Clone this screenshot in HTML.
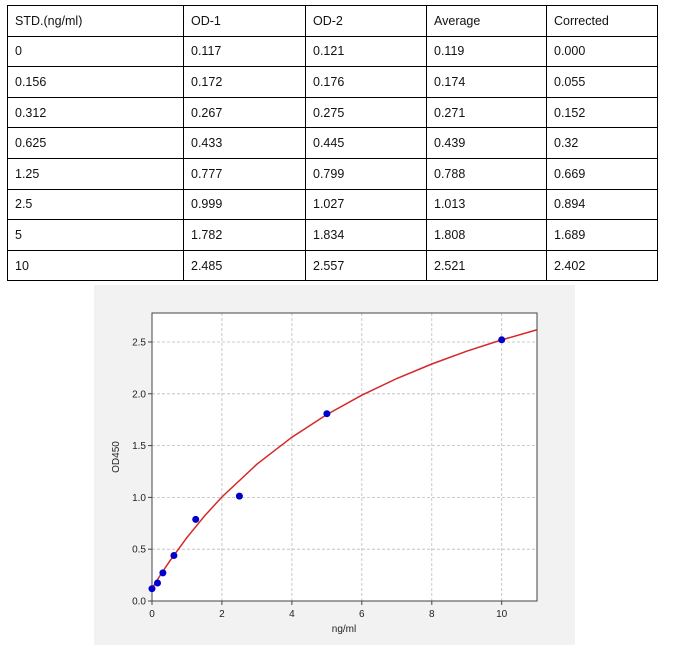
<!DOCTYPE html>
<html><head><style>
body{margin:0;background:#fff;width:686px;height:648px;position:relative;font-family:"Liberation Sans",sans-serif;overflow:hidden}
table{position:absolute;left:7px;top:5px;border-collapse:collapse;font-size:12.5px;color:#111}
td{border:1px solid #000;height:30.6px;padding:0 0 0 7px;box-sizing:border-box;vertical-align:middle}
</style></head><body>
<table>
<tr><td style="width:176px">STD.(ng/ml)</td><td style="width:122px">OD-1</td><td style="width:121px">OD-2</td><td style="width:120px">Average</td><td style="width:111px">Corrected</td></tr>
<tr><td>0</td><td>0.117</td><td>0.121</td><td>0.119</td><td>0.000</td></tr>
<tr><td>0.156</td><td>0.172</td><td>0.176</td><td>0.174</td><td>0.055</td></tr>
<tr><td>0.312</td><td>0.267</td><td>0.275</td><td>0.271</td><td>0.152</td></tr>
<tr><td>0.625</td><td>0.433</td><td>0.445</td><td>0.439</td><td>0.32</td></tr>
<tr><td>1.25</td><td>0.777</td><td>0.799</td><td>0.788</td><td>0.669</td></tr>
<tr><td>2.5</td><td>0.999</td><td>1.027</td><td>1.013</td><td>0.894</td></tr>
<tr><td>5</td><td>1.782</td><td>1.834</td><td>1.808</td><td>1.689</td></tr>
<tr><td>10</td><td>2.485</td><td>2.557</td><td>2.521</td><td>2.402</td></tr>
</table>
<svg width="686" height="648" style="position:absolute;left:0;top:0" font-family="Liberation Sans, sans-serif" font-size="10" fill="#222">
<rect x="94" y="285" width="481" height="360" fill="#f2f2f2"/>
<rect x="152" y="313" width="385" height="288" fill="#fff"/>
<g stroke="#bbb" stroke-dasharray="3,2" stroke-width="0.8">
<line x1="221.9" y1="313" x2="221.9" y2="601"/><line x1="291.9" y1="313" x2="291.9" y2="601"/><line x1="361.8" y1="313" x2="361.8" y2="601"/><line x1="431.8" y1="313" x2="431.8" y2="601"/><line x1="501.7" y1="313" x2="501.7" y2="601"/>
<line x1="152" y1="549.2" x2="537" y2="549.2"/><line x1="152" y1="497.4" x2="537" y2="497.4"/><line x1="152" y1="445.6" x2="537" y2="445.6"/><line x1="152" y1="393.8" x2="537" y2="393.8"/><line x1="152" y1="342" x2="537" y2="342"/><line x1="152" y1="601" x2="537" y2="601"/>
</g>
<rect x="152" y="313" width="385" height="288" fill="none" stroke="#444" stroke-width="1"/>
<g stroke="#444">
<line x1="148" y1="601" x2="152" y2="601"/><line x1="148" y1="549.2" x2="152" y2="549.2"/><line x1="148" y1="497.4" x2="152" y2="497.4"/><line x1="148" y1="445.6" x2="152" y2="445.6"/><line x1="148" y1="393.8" x2="152" y2="393.8"/><line x1="148" y1="342" x2="152" y2="342"/>
<line x1="152" y1="601" x2="152" y2="605"/><line x1="221.9" y1="601" x2="221.9" y2="605"/><line x1="291.9" y1="601" x2="291.9" y2="605"/><line x1="361.8" y1="601" x2="361.8" y2="605"/><line x1="431.8" y1="601" x2="431.8" y2="605"/><line x1="501.7" y1="601" x2="501.7" y2="605"/>
</g>
<g text-anchor="end">
<text x="146" y="604.5">0.0</text><text x="146" y="552.7">0.5</text><text x="146" y="500.9">1.0</text><text x="146" y="449.1">1.5</text><text x="146" y="397.3">2.0</text><text x="146" y="345.5">2.5</text>
</g>
<g text-anchor="middle">
<text x="152" y="617">0</text><text x="221.9" y="617">2</text><text x="291.9" y="617">4</text><text x="361.8" y="617">6</text><text x="431.8" y="617">8</text><text x="501.7" y="617">10</text>
<text x="344" y="632">ng/ml</text>
<text transform="translate(119,457) rotate(-90)">OD450</text>
</g>
<polyline fill="none" stroke="#d62728" stroke-width="1.5" points="152,588.6 160.7,574.5 169.5,561.4 187,537.4 204.5,516 221.9,497 256.9,464.2 291.9,437.2 326.9,414.5 361.8,395.2 396.8,378.5 431.8,364 466.7,351.2 501.7,339.9 536.7,329.9"/>
<g fill="#0000cc">
<circle cx="152" cy="588.7" r="3.5"/><circle cx="157.5" cy="583" r="3.5"/><circle cx="162.9" cy="572.9" r="3.5"/><circle cx="173.9" cy="555.5" r="3.5"/><circle cx="195.7" cy="519.4" r="3.5"/><circle cx="239.4" cy="496.1" r="3.5"/><circle cx="326.9" cy="413.7" r="3.5"/><circle cx="501.7" cy="339.8" r="3.5"/>
</g>
</svg>
</body></html>
